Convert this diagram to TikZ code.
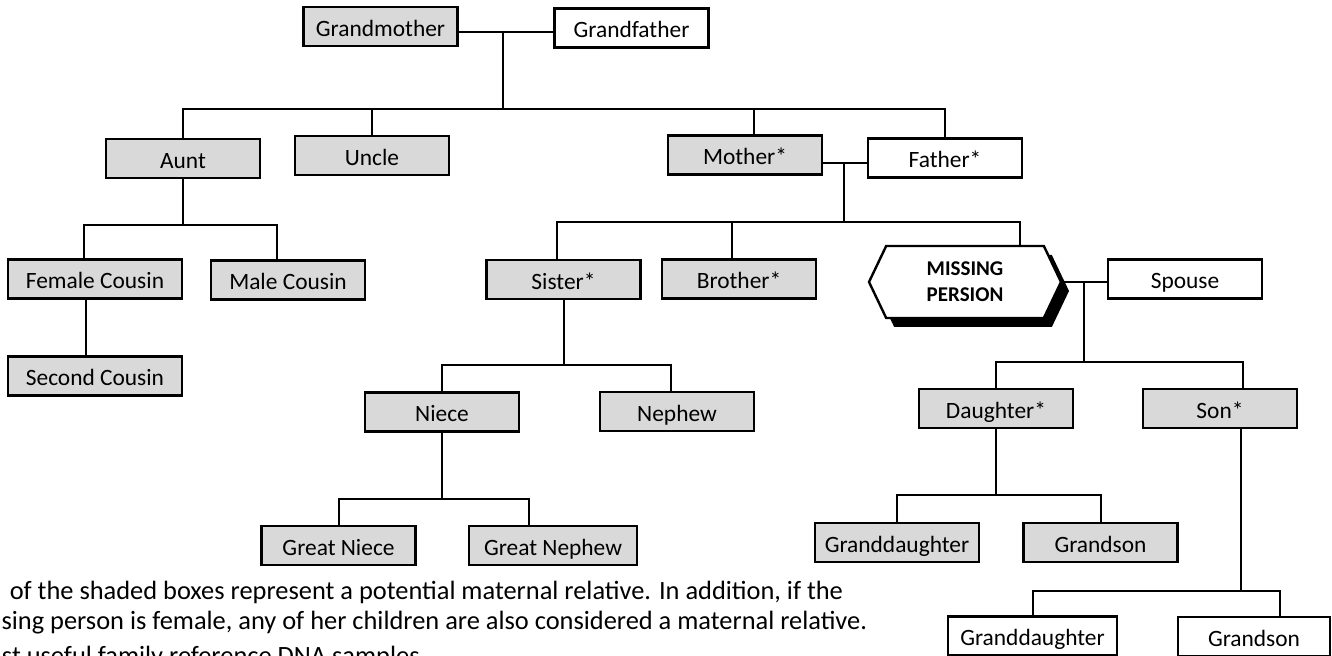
\documentclass[tikz,border=0pt]{standalone}
\usepackage{fontspec}
\setmainfont{Carlito}
\usetikzlibrary{shapes.symbols,shadows}

\begin{document}
\begin{tikzpicture}[x=0.5pt,y=-0.5pt]
        \tikzstyle{every path}=[line width=1pt]

        \tikzstyle{person}=[draw,line width=1.2pt,minimum width=77pt,minimum height=19.5pt,inner sep=0pt,
                            text height=11pt,text depth=1.25pt,font=\fontsize{11.7}{14}\selectfont]
        \tikzstyle{blood}=[person,fill=black!15]
        \tikzstyle{inlaw}=[person,fill=white]
        \tikzstyle{target}=[signal,signal to=east and west,signal pointer angle=129,draw,line width=1.2pt,fill=white,
                            minimum width=96pt,minimum height=36pt,inner sep=0pt,align=center,
                            font=\fontsize{10.5}{13}\selectfont\bfseries,
                            drop shadow={shadow xshift=4pt,shadow yshift=-4.5pt,opacity=1,fill=black}]
        \tikzstyle{note}=[inner sep=0pt,font=\fontsize{13.2}{15}\selectfont]

        \useasboundingbox (0,0) rectangle (1332,656);

        % grandparents, parents and their generation
        \node [blood] (gmother)  at (380.5,26.5) {Grandmother};
        \node [inlaw] (gfather)  at (631.5,28)   {Grandfather};
        \node [blood] (aunt)     at (183,158.5)  {Aunt};
        \node [blood] (uncle)    at (372,155.5)  {Uncle};
        \node [blood] (mother)   at (745,155)    {Mother*};
        \node [inlaw] (father)   at (945,158)    {Father*};

        % cousins
        \node [blood,minimum width=87pt] (fcousin) at (95,279)  {Female Cousin};
        \node [blood] (mcousin)                    at (288,280) {Male Cousin};
        \node [blood,minimum width=87pt] (scousin) at (95,376)  {Second Cousin};

        % siblings
        \node [blood]  (sister)  at (563.5,279.5) {Sister*};
        \node [blood]  (brother) at (739,279)     {Brother*};
        \node [target] (missing) at (965,282)     {MISSING\\PERSION};
        \node [inlaw]  (spouse)  at (1185,279)    {Spouse};

        % next generation
        \node [blood] (niece)    at (442,412)   {Niece};
        \node [blood] (nephew)   at (677,411.5) {Nephew};
        \node [blood] (daughter) at (996,408.5) {Daughter*};
        \node [blood] (son)      at (1220,408.5){Son*};

        \node [blood] (gniece)   at (338.5,545.5)                   {Great Niece};
        \node [blood,minimum width=84pt] (gnephew)  at (553,545.5)  {Great Nephew};
        \node [blood,minimum width=82pt] (gdaughtera) at (897,542.5) {Granddaughter};
        \node [blood] (gsona)    at (1100.5,542.5)                  {Grandson};
        \node [inlaw,minimum width=84.5pt] (gdaughterb) at (1032.5,636) {Granddaughter};
        \node [inlaw,minimum width=76pt] (gsonb) at (1254,636.5)    {Grandson};

        % junctions
        \coordinate (gpj)   at (503,32);
        \coordinate (gpbar) at (503,109);
        \coordinate (pj)    at (844,163);
        \coordinate (pbar)  at (844,222);
        \coordinate (abar)  at (182,225);
        \coordinate (mj)    at (1084,282);
        \coordinate (mbar)  at (1084,362);
        \coordinate (sbar)  at (561,365);
        \coordinate (nbar)  at (441,499);
        \coordinate (dbar)  at (995,495);
        \coordinate (sobar) at (1241,591);

        \draw (gmother.east |- gpj) -- (gfather.west |- gpj);
        \draw (gpj) -- (gpbar);
        \draw (aunt.north) |- (gpbar) -| (father.north);
        \draw (uncle.north) -- (uncle.north |- gpbar);
        \draw ([xshift=4.5pt]mother.north) -- ([xshift=4.5pt]mother.north |- gpbar);

        \draw (mother.east |- pj) -- (father.west |- pj);
        \draw (pj) -- (pbar);
        \draw ([xshift=-3.25pt]sister.north) |- (pbar) -| ([xshift=27.5pt]missing.north);
        \draw ([xshift=-3.5pt]brother.north) -- ([xshift=-3.5pt]brother.north |- pbar);

        \draw (aunt.south) -- (aunt.south |- abar);
        \draw ([xshift=-5.5pt]fcousin.north) |- (abar) -| ([xshift=-5.5pt]mcousin.north);
        \draw ([xshift=-4.5pt]fcousin.south) -- ([xshift=-4.5pt]scousin.north);

        \draw (missing.east) -- (spouse.west |- missing.east);
        \draw (mj) -- (mbar);
        \draw (daughter.north) |- (mbar) -| ([xshift=11.5pt]son.north);

        \draw (sister.south) -- (sister.south |- sbar);
        \draw (niece.north) |- (sbar) -| ([xshift=-3pt]nephew.north);

        \draw (niece.south) -- (niece.south |- nbar);
        \draw (gniece.north) |- (nbar) -| ([xshift=-12pt]gnephew.north);

        \draw (daughter.south) -- (daughter.south |- dbar);
        \draw (gdaughtera.north) |- (dbar) -| (gsona.north);

        \draw ([xshift=10.5pt]son.south) -- ([xshift=10.5pt]son.south |- sobar);
        \draw (gdaughterb.north) |- (sobar) -| ([xshift=13pt]gsonb.north);

        % note under the tree
        \node [note,anchor=base east] (notea) at (844,600) {of the shaded boxes represent a potential maternal relative. In addition, if the};
        \node [note,anchor=base east] (noteb) at (868,630) {sing person is female, any of her children are also considered a maternal relative.};
        \node [note,anchor=base west] (notec) at (1,664)   {st useful family reference DNA samples.};
\end{tikzpicture}
\end{document}
